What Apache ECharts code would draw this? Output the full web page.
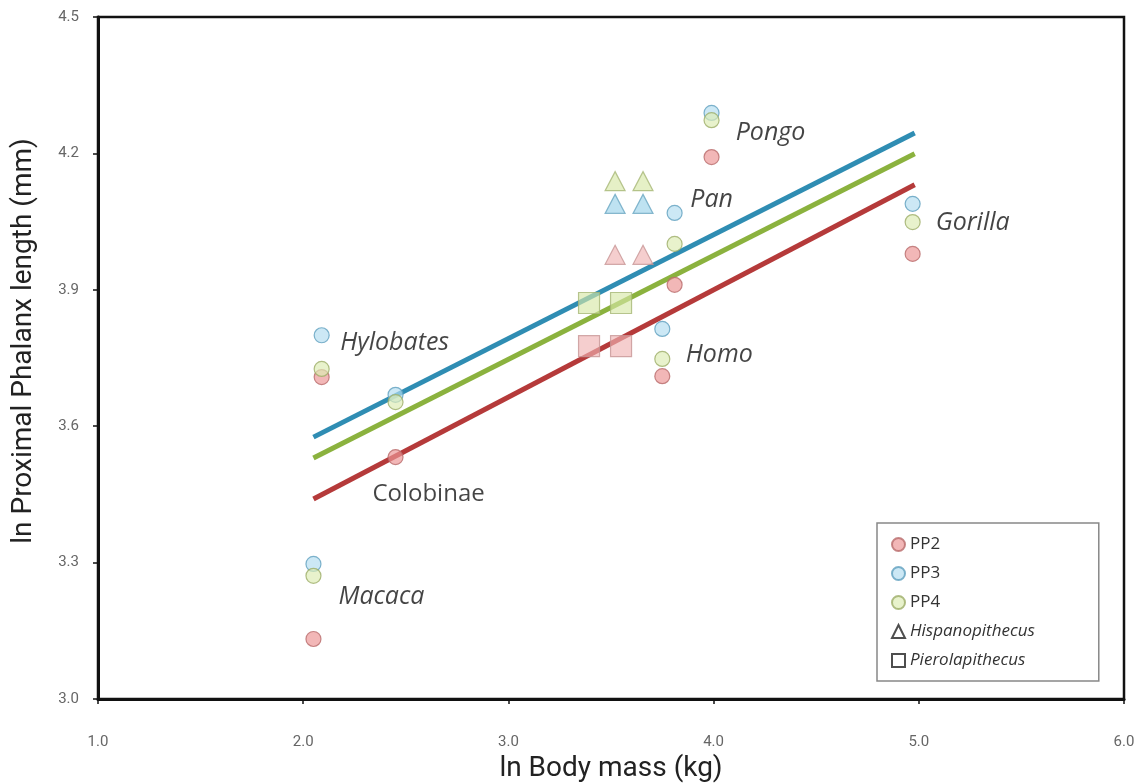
<!DOCTYPE html>
<html>
<head>
<meta charset="utf-8">
<script src="https://cdn.jsdelivr.net/npm/echarts@6/dist/echarts.min.js"></script>
<style>
  html, body { margin: 0; padding: 0; background: #fff; }
  #chart { width: 1146px; height: 784px; }
</style>
</head>
<body>
<div id="chart"></div>
<script>
// Extant taxa: ln body mass (kg) and ln proximal phalanx length (mm) for rays 2-4
const taxa     = ['Macaca', 'Hylobates', 'Colobinae', 'Homo', 'Pan', 'Pongo', 'Gorilla'];
const bodyMass = [2.05, 2.09, 2.45, 3.75, 3.81, 3.99, 4.97];
const pp2      = [3.132, 3.708, 3.532, 3.710, 3.911, 4.192, 3.979];
const pp3      = [3.297, 3.800, 3.669, 3.814, 4.069, 4.289, 4.089];
const pp4      = [3.271, 3.726, 3.653, 3.748, 4.001, 4.273, 4.049];

// Fossil hominoids (two body-mass estimates each)
const hispanoMass = [3.52, 3.656];
const hispanoPP2  = [3.977, 3.977];
const hispanoPP3  = [4.089, 4.089];
const hispanoPP4  = [4.139, 4.139];
const pieroMass   = [3.393, 3.549];
const pieroPP2    = [3.776, 3.776];
const pieroPP4    = [3.871, 3.871];

// Least-squares fits (end points) for each ray
const fitMass = [2.05, 4.98];
const fitPP2  = [3.440, 4.131];
const fitPP3  = [3.576, 4.245];
const fitPP4  = [3.530, 4.199];

// Axis ticks
const xTicks = { min: 1, max: 6, step: 1 };
const yTicks = { min: 3.0, max: 4.5, step: 0.3 };

const pts = (xs, ys) => xs.map((x, i) => [x, ys[i]]);

// Colours per ray
const ray = {
  PP2: { fill: 'rgba(236,150,150,0.85)', stroke: '#b86a6a', line: '#b53a3a', fossil: 'rgba(240,178,178,0.8)', fossilStroke: '#c79595' },
  PP3: { fill: 'rgba(180,222,240,0.85)', stroke: '#5e9fbe', line: '#2f8db3', fossil: 'rgba(160,212,234,0.85)', fossilStroke: '#6aa6c2' },
  PP4: { fill: 'rgba(222,236,180,0.85)', stroke: '#9cac66', line: '#8bb23e', fossil: 'rgba(214,232,166,0.8)', fossilStroke: '#a6b676' }
};

// Where each taxon name sits, relative to its PP3 point (px)
const labelOffsets = {
  Macaca: [68, 33], Hylobates: [73, 8], Colobinae: [33, 99], Homo: [57, 26],
  Pan: [37, -13], Pongo: [59, 20], Gorilla: [60, 19]
};

const titleFont = 'Roboto, sans-serif';

function fitLine(name, ys) {
  return {
    name: name + ' fit', type: 'line', data: pts(fitMass, ys), symbol: 'none',
    lineStyle: { color: ray[name].line, width: 5 }, z: 2, silent: true
  };
}
function circles(name, ys) {
  return {
    name: name, type: 'scatter', data: pts(bodyMass, ys), symbol: 'circle', symbolSize: 15,
    itemStyle: { color: ray[name].fill, borderColor: ray[name].stroke, borderWidth: 1.2 }, z: 3
  };
}
function fossils(name, sym, xs, ys, size) {
  return {
    name: 'fossil ' + sym + ' ' + name, type: 'scatter', data: pts(xs, ys), symbol: sym, symbolSize: size,
    itemStyle: { color: ray[name].fossil, borderColor: ray[name].fossilStroke, borderWidth: 1.2 }, z: 3
  };
}

const labelSeries = {
  name: 'taxa', type: 'scatter', symbolSize: 1, z: 5, silent: true,
  itemStyle: { color: 'rgba(0,0,0,0)' },
  data: taxa.map((t, i) => ({
    value: [bodyMass[i], pp3[i]],
    label: {
      show: true, formatter: t, position: 'inside', offset: labelOffsets[t],
      fontFamily: 'Open Sans', fontSize: t === 'Colobinae' ? 24 : 25, color: '#151515',
      fontStyle: t === 'Colobinae' ? 'normal' : 'italic'
    }
  }))
};

const legendOnly = (name, sym) => ({
  name: name, type: 'scatter', data: [], symbol: sym,
  itemStyle: { color: '#fff', borderColor: '#222', borderWidth: 1.5 }
});

const chart = echarts.init(document.getElementById('chart'));
chart.setOption({
  animation: false,
  backgroundColor: '#fff',
  grid: {
    left: 98, right: 22, top: 17, bottom: 85, outerBoundsMode: 'none',
    show: true, borderColor: '#111', borderWidth: 2.5, backgroundColor: 'transparent'
  },
  xAxis: {
    type: 'value', min: xTicks.min, max: xTicks.max, interval: xTicks.step,
    name: 'ln Body mass (kg)', nameLocation: 'middle', nameGap: 44,
    nameTextStyle: { fontFamily: titleFont, fontSize: 28, color: '#222' },
    axisLine: { lineStyle: { color: '#111', width: 3 } },
    axisTick: { show: true, length: 5, lineStyle: { color: '#111', width: 1.5 } },
    axisLabel: { margin: 36, color: '#666', fontSize: 15, fontFamily: titleFont, formatter: v => v.toFixed(1) },
    splitLine: { show: false }
  },
  yAxis: {
    type: 'value', min: yTicks.min, max: yTicks.max, interval: yTicks.step,
    name: 'ln Proximal Phalanx length (mm)', nameLocation: 'middle', nameGap: 60, nameRotate: 90,
    nameTextStyle: { fontFamily: titleFont, fontSize: 28, color: '#222', padding: [0, 0, 0, 34] },
    axisLine: { lineStyle: { color: '#111', width: 3 } },
    axisTick: { show: true, length: 5, lineStyle: { color: '#111', width: 1.5 } },
    axisLabel: { margin: 19, color: '#666', fontSize: 15, fontFamily: titleFont, formatter: v => v.toFixed(1) },
    splitLine: { show: false }
  },
  legend: {
    orient: 'vertical', left: 877, top: 523, padding: [13, 64, 12, 14],
    backgroundColor: '#fff', borderColor: '#888', borderWidth: 1.5,
    itemWidth: 13, itemHeight: 13, itemGap: 12,
    textStyle: { fontFamily: 'Open Sans', fontSize: 17, color: '#333' },
    data: [
      { name: 'PP2', icon: 'circle' },
      { name: 'PP3', icon: 'circle' },
      { name: 'PP4', icon: 'circle' },
      { name: 'Hispanopithecus', icon: 'triangle', textStyle: { fontStyle: 'italic' } },
      { name: 'Pierolapithecus', icon: 'rect', textStyle: { fontStyle: 'italic' } }
    ]
  },
  series: [
    fitLine('PP3', fitPP3),
    fitLine('PP4', fitPP4),
    fitLine('PP2', fitPP2),
    circles('PP2', pp2),
    circles('PP3', pp3),
    circles('PP4', pp4),
    fossils('PP2', 'triangle', hispanoMass, hispanoPP2, [20, 19]),
    fossils('PP3', 'triangle', hispanoMass, hispanoPP3, [20, 19]),
    fossils('PP4', 'triangle', hispanoMass, hispanoPP4, [20, 19]),
    fossils('PP2', 'rect', pieroMass, pieroPP2, 21),
    fossils('PP4', 'rect', pieroMass, pieroPP4, 21),
    legendOnly('Hispanopithecus', 'triangle'),
    legendOnly('Pierolapithecus', 'rect'),
    labelSeries
  ]
});
</script>
</body>
</html>
